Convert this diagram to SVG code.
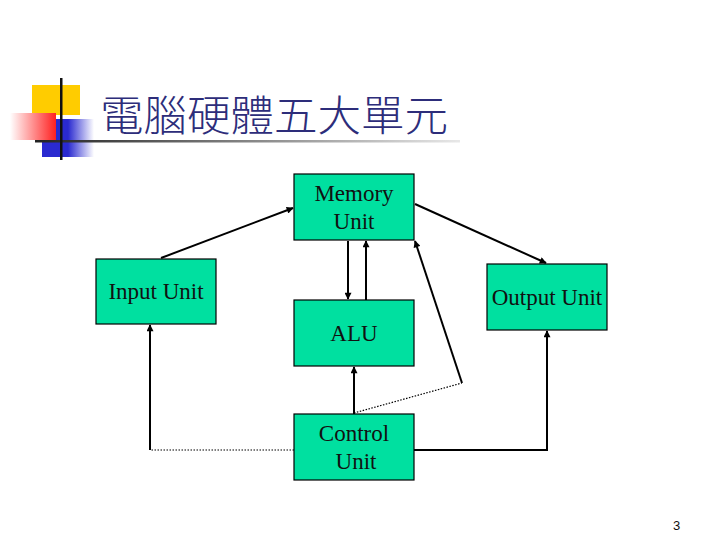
<svg xmlns="http://www.w3.org/2000/svg" width="720" height="540" viewBox="0 0 720 540">
<style>
.box{fill:#00E0A0;stroke:#000;stroke-width:1.2}
.lbl{font-family:"Liberation Serif","Times New Roman",serif;font-size:23px;fill:#111}
.ln{stroke:#000;stroke-width:2;fill:none}
.dot{stroke:#000;stroke-width:1.2;fill:none;stroke-dasharray:1.5,1.5}
</style>
<defs>
<marker id="ah" viewBox="0 0 10 10" refX="9" refY="5" markerWidth="8" markerHeight="7" orient="auto" markerUnits="userSpaceOnUse">
<path d="M0,0 L10,5 L0,10 z" fill="#000"/>
</marker>
<linearGradient id="red" x1="1" y1="0" x2="0" y2="0">
<stop offset="0" stop-color="#ff2020"/><stop offset="1" stop-color="#ffffff"/>
</linearGradient>
<linearGradient id="blue" x1="0" y1="0" x2="1" y2="0">
<stop offset="0" stop-color="#2a2ad0"/><stop offset="0.5" stop-color="#2a2ad0"/><stop offset="1" stop-color="#ffffff"/>
</linearGradient>
<linearGradient id="hl" x1="0" y1="0" x2="1" y2="0">
<stop offset="0" stop-color="#222"/><stop offset="1" stop-color="#e8e8e8"/>
</linearGradient>
</defs>
<g id="decor">
<rect x="32" y="85" width="48" height="30" fill="#ffcc00"/>
<rect x="42" y="119" width="52" height="38" fill="url(#blue)"/>
<rect x="10" y="113" width="46" height="27" fill="url(#red)"/>
<rect x="35" y="140" width="425" height="2.5" fill="url(#hl)"/>
<rect x="60" y="78" width="2.5" height="82" fill="#111"/>
</g>
<g id="title">
<text x="100" y="131" font-family="'Noto Sans CJK TC','Noto Sans CJK SC',sans-serif" font-size="42" font-weight="300" fill="#2d2d7a" textLength="348" lengthAdjust="spacingAndGlyphs">電腦硬體五大單元</text>
</g>
<g id="connectors">
<line class="ln" x1="161" y1="258" x2="293" y2="208" marker-end="url(#ah)"/>
<line class="ln" x1="415" y1="204" x2="546" y2="263" marker-end="url(#ah)"/>
<line class="ln" x1="348" y1="241" x2="348" y2="299" marker-end="url(#ah)"/>
<line class="ln" x1="366" y1="300" x2="366" y2="241" marker-end="url(#ah)"/>
<line class="ln" x1="354" y1="414" x2="354" y2="367" marker-end="url(#ah)"/>
<path class="dot" d="M354,413 L462,383"/>
<line class="ln" x1="462" y1="383" x2="415" y2="241" marker-end="url(#ah)"/>
<path class="dot" d="M294,450 L150,450"/>
<line class="ln" x1="150" y1="450" x2="150" y2="325" marker-end="url(#ah)"/>
<path class="ln" d="M414,450 L547,450 L547,331" marker-end="url(#ah)"/>
</g>
<g id="memory">
<rect class="box" x="294" y="174" width="120" height="66"/>
<text class="lbl" x="354" y="201" text-anchor="middle">Memory</text>
<text class="lbl" x="354" y="229" text-anchor="middle">Unit</text>
</g>
<g id="input">
<rect class="box" x="96" y="259" width="120" height="65"/>
<text class="lbl" x="156" y="299" text-anchor="middle">Input Unit</text>
</g>
<g id="output">
<rect class="box" x="487" y="264" width="120" height="66"/>
<text class="lbl" x="547" y="305" text-anchor="middle">Output Unit</text>
</g>
<g id="alu">
<rect class="box" x="294" y="300" width="120" height="66"/>
<text class="lbl" x="354" y="341" text-anchor="middle">ALU</text>
</g>
<g id="control">
<rect class="box" x="294" y="414" width="120" height="66"/>
<text class="lbl" x="354" y="441" text-anchor="middle">Control</text>
<text class="lbl" x="356" y="469" text-anchor="middle">Unit</text>
</g>
<text x="673" y="530" font-family="'Liberation Sans',Arial,sans-serif" font-size="13" fill="#111">3</text>
</svg>
